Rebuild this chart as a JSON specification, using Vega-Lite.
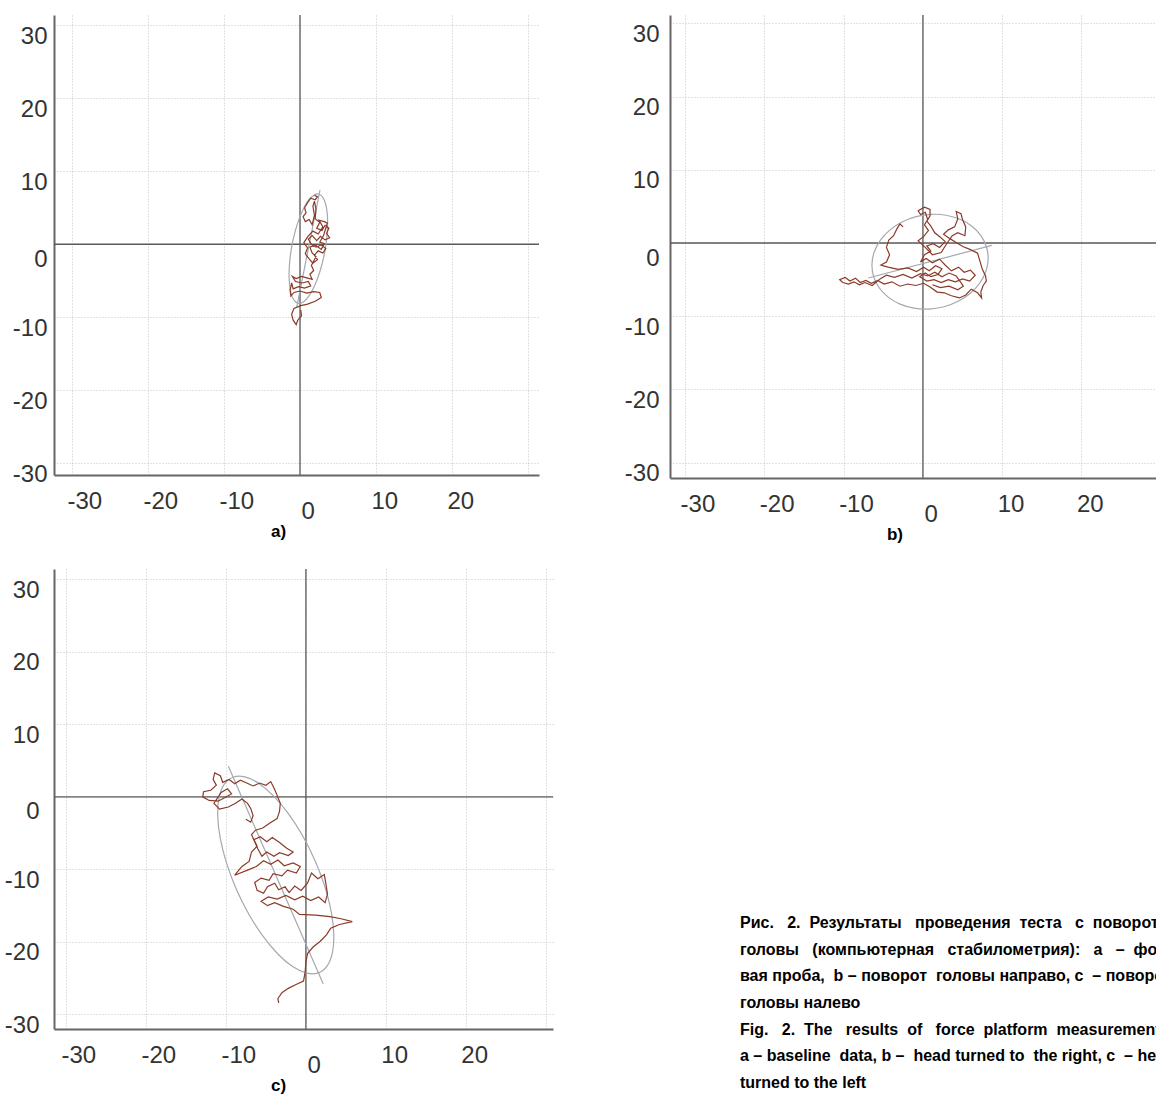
{
"$schema": "https://vega.github.io/schema/vega-lite/v6.json",
"background": "white",
"padding": {"left": 4, "top": 14, "right": 0, "bottom": 0},
"autosize": {"type": "pad"},
"config": {"view": {"stroke": null}, "font": "Liberation Sans"},
"datasets": {
"trajA": [{"i":1,"x":1.9,"y":6.7},{"i":2,"x":2.3,"y":6.5},{"i":3,"x":2.0,"y":6.1},{"i":4,"x":1.4,"y":6.3},{"i":5,"x":1.0,"y":5.7},{"i":6,"x":0.6,"y":5.0},{"i":7,"x":0.8,"y":4.3},{"i":8,"x":0.4,"y":3.8},{"i":9,"x":0.7,"y":3.1},{"i":10,"x":1.2,"y":3.4},{"i":11,"x":1.6,"y":2.7},{"i":12,"x":1.9,"y":4.0},{"i":13,"x":1.7,"y":5.2},{"i":14,"x":1.9,"y":5.9},{"i":15,"x":2.1,"y":4.8},{"i":16,"x":2.0,"y":3.5},{"i":17,"x":2.6,"y":3.0},{"i":18,"x":2.2,"y":2.2},{"i":19,"x":2.9,"y":1.9},{"i":20,"x":3.3,"y":2.6},{"i":21,"x":3.8,"y":2.2},{"i":22,"x":3.5,"y":1.5},{"i":23,"x":3.9,"y":0.9},{"i":24,"x":3.3,"y":0.6},{"i":25,"x":2.7,"y":1.1},{"i":26,"x":2.2,"y":0.5},{"i":27,"x":1.6,"y":1.2},{"i":28,"x":1.1,"y":0.7},{"i":29,"x":1.5,"y":0.0},{"i":30,"x":2.1,"y":-0.4},{"i":31,"x":2.8,"y":-0.1},{"i":32,"x":3.4,"y":-0.6},{"i":33,"x":3.0,"y":-1.2},{"i":34,"x":2.4,"y":-0.9},{"i":35,"x":1.9,"y":-1.5},{"i":36,"x":2.3,"y":-2.1},{"i":37,"x":1.7,"y":-2.6},{"i":38,"x":1.2,"y":-2.0},{"i":39,"x":0.7,"y":-1.3},{"i":40,"x":1.0,"y":-0.5},{"i":41,"x":0.5,"y":0.2},{"i":42,"x":1.0,"y":1.0},{"i":43,"x":1.7,"y":1.8},{"i":44,"x":2.4,"y":1.4},{"i":45,"x":3.0,"y":2.4},{"i":46,"x":2.5,"y":3.3},{"i":47,"x":3.2,"y":3.1},{"i":48,"x":3.6,"y":2.9},{"i":49,"x":3.1,"y":1.2},{"i":50,"x":2.6,"y":0.3},{"i":51,"x":3.2,"y":0.1},{"i":52,"x":2.8,"y":-0.7},{"i":53,"x":2.0,"y":-0.1},{"i":54,"x":1.3,"y":-0.4},{"i":55,"x":1.6,"y":-1.2},{"i":56,"x":2.1,"y":-1.7},{"i":57,"x":1.5,"y":-2.9},{"i":58,"x":1.8,"y":-3.6},{"i":59,"x":1.3,"y":-4.1},{"i":60,"x":1.6,"y":-4.8},{"i":61,"x":0.9,"y":-4.6},{"i":62,"x":0.2,"y":-4.4},{"i":63,"x":-0.5,"y":-4.7},{"i":64,"x":-1.0,"y":-4.4},{"i":65,"x":-0.6,"y":-5.1},{"i":66,"x":0.3,"y":-5.3},{"i":67,"x":1.1,"y":-5.1},{"i":68,"x":1.4,"y":-5.7},{"i":69,"x":0.6,"y":-6.0},{"i":70,"x":-0.2,"y":-5.8},{"i":71,"x":-0.9,"y":-6.1},{"i":72,"x":-1.1,"y":-5.3},{"i":73,"x":-1.3,"y":-6.3},{"i":74,"x":-1.2,"y":-7.1},{"i":75,"x":-0.8,"y":-6.6},{"i":76,"x":0.0,"y":-6.4},{"i":77,"x":0.9,"y":-6.7},{"i":78,"x":1.8,"y":-6.5},{"i":79,"x":2.6,"y":-6.6},{"i":80,"x":2.8,"y":-7.3},{"i":81,"x":2.0,"y":-7.8},{"i":82,"x":1.0,"y":-8.2},{"i":83,"x":0.1,"y":-8.4},{"i":84,"x":-0.8,"y":-8.8},{"i":85,"x":-1.1,"y":-9.6},{"i":86,"x":-0.9,"y":-10.4},{"i":87,"x":-0.5,"y":-11.0},{"i":88,"x":-0.3,"y":-10.4},{"i":89,"x":0.2,"y":-9.8},{"i":90,"x":0.1,"y":-9.0}],
"ellA": [{"i":0,"x":2.419,"y":6.884},{"i":1,"x":2.935,"y":6.53},{"i":2,"x":3.326,"y":5.69},{"i":3,"x":3.565,"y":4.422},{"i":4,"x":3.637,"y":2.811},{"i":5,"x":3.534,"y":0.968},{"i":6,"x":3.267,"y":-0.982},{"i":7,"x":2.852,"y":-2.906},{"i":8,"x":2.317,"y":-4.673},{"i":9,"x":1.699,"y":-6.162},{"i":10,"x":1.042,"y":-7.272},{"i":11,"x":0.387,"y":-7.928},{"i":12,"x":-0.219,"y":-8.084},{"i":13,"x":-0.735,"y":-7.73},{"i":14,"x":-1.126,"y":-6.89},{"i":15,"x":-1.365,"y":-5.622},{"i":16,"x":-1.437,"y":-4.011},{"i":17,"x":-1.334,"y":-2.168},{"i":18,"x":-1.067,"y":-0.218},{"i":19,"x":-0.652,"y":1.706},{"i":20,"x":-0.117,"y":3.473},{"i":21,"x":0.501,"y":4.962},{"i":22,"x":1.158,"y":6.072},{"i":23,"x":1.813,"y":6.728}],
"axA": [{"x":2.63,"y":7.4,"x2":-0.43,"y2":-8.6}],
"trajB": [{"i":1,"x":-2.5,"y":2.2},{"i":2,"x":-2.9,"y":2.6},{"i":3,"x":-3.3,"y":1.9},{"i":4,"x":-3.7,"y":1.0},{"i":5,"x":-4.3,"y":0.4},{"i":6,"x":-4.6,"y":-0.6},{"i":7,"x":-4.2,"y":-1.6},{"i":8,"x":-4.6,"y":-2.6},{"i":9,"x":-5.3,"y":-3.0},{"i":10,"x":-4.4,"y":-3.3},{"i":11,"x":-3.1,"y":-3.6},{"i":12,"x":-1.9,"y":-3.4},{"i":13,"x":-0.8,"y":-3.9},{"i":14,"x":0.1,"y":-3.3},{"i":15,"x":0.8,"y":-3.8},{"i":16,"x":1.6,"y":-3.1},{"i":17,"x":2.4,"y":-3.5},{"i":18,"x":1.9,"y":-4.3},{"i":19,"x":1.0,"y":-4.6},{"i":20,"x":0.3,"y":-4.1},{"i":21,"x":-0.4,"y":-4.6},{"i":22,"x":0.5,"y":-5.2},{"i":23,"x":1.4,"y":-5.0},{"i":24,"x":2.3,"y":-5.4},{"i":25,"x":3.2,"y":-5.0},{"i":26,"x":4.1,"y":-5.3},{"i":27,"x":5.0,"y":-4.9},{"i":28,"x":5.9,"y":-5.2},{"i":29,"x":6.6,"y":-4.4},{"i":30,"x":6.0,"y":-3.7},{"i":31,"x":5.2,"y":-4.0},{"i":32,"x":4.5,"y":-3.3},{"i":33,"x":3.6,"y":-3.8},{"i":34,"x":2.8,"y":-3.0},{"i":35,"x":2.1,"y":-2.2},{"i":36,"x":1.2,"y":-2.7},{"i":37,"x":0.4,"y":-2.1},{"i":38,"x":-0.3,"y":-2.6},{"i":39,"x":0.2,"y":-1.6},{"i":40,"x":1.0,"y":-1.1},{"i":41,"x":0.5,"y":-0.4},{"i":42,"x":1.3,"y":-0.1},{"i":43,"x":2.1,"y":-0.6},{"i":44,"x":2.8,"y":0.2},{"i":45,"x":2.2,"y":0.8},{"i":46,"x":1.5,"y":1.4},{"i":47,"x":1.0,"y":2.3},{"i":48,"x":0.5,"y":3.0},{"i":49,"x":0.9,"y":3.7},{"i":50,"x":0.9,"y":4.6},{"i":51,"x":0.2,"y":4.9},{"i":52,"x":-0.6,"y":4.4},{"i":53,"x":-0.3,"y":3.9},{"i":54,"x":0.3,"y":4.2},{"i":55,"x":0.6,"y":3.2},{"i":56,"x":0.2,"y":2.5},{"i":57,"x":0.7,"y":1.7},{"i":58,"x":0.1,"y":0.9},{"i":59,"x":-0.6,"y":0.3},{"i":60,"x":0.3,"y":-0.6},{"i":61,"x":1.2,"y":-1.6},{"i":62,"x":2.3,"y":-1.3},{"i":63,"x":3.0,"y":-0.1},{"i":64,"x":3.7,"y":1.0},{"i":65,"x":4.4,"y":1.4},{"i":66,"x":5.3,"y":1.0},{"i":67,"x":5.4,"y":2.2},{"i":68,"x":5.0,"y":3.2},{"i":69,"x":4.8,"y":4.0},{"i":70,"x":4.2,"y":4.3},{"i":71,"x":4.4,"y":3.3},{"i":72,"x":4.0,"y":2.2},{"i":73,"x":3.2,"y":1.8},{"i":74,"x":2.6,"y":1.2},{"i":75,"x":3.4,"y":0.6},{"i":76,"x":4.3,"y":0.0},{"i":77,"x":5.1,"y":-0.5},{"i":78,"x":6.0,"y":-0.9},{"i":79,"x":6.9,"y":-1.4},{"i":80,"x":7.2,"y":-2.5},{"i":81,"x":7.5,"y":-3.6},{"i":82,"x":7.9,"y":-4.5},{"i":83,"x":8.0,"y":-5.2},{"i":84,"x":7.6,"y":-5.8},{"i":85,"x":7.3,"y":-6.7},{"i":86,"x":7.4,"y":-7.5},{"i":87,"x":6.9,"y":-6.8},{"i":88,"x":6.1,"y":-6.3},{"i":89,"x":5.4,"y":-7.1},{"i":90,"x":4.6,"y":-7.5},{"i":91,"x":3.6,"y":-7.2},{"i":92,"x":2.7,"y":-6.8},{"i":93,"x":1.8,"y":-6.7},{"i":94,"x":0.9,"y":-6.0},{"i":95,"x":0.1,"y":-5.5},{"i":96,"x":-0.9,"y":-5.8},{"i":97,"x":-1.9,"y":-5.6},{"i":98,"x":-2.9,"y":-5.9},{"i":99,"x":-3.9,"y":-5.3},{"i":100,"x":-4.9,"y":-5.6},{"i":101,"x":-5.7,"y":-5.1},{"i":102,"x":-6.5,"y":-5.5},{"i":103,"x":-7.2,"y":-5.1},{"i":104,"x":-7.9,"y":-5.4},{"i":105,"x":-8.5,"y":-4.8},{"i":106,"x":-9.2,"y":-5.2},{"i":107,"x":-9.8,"y":-4.7},{"i":108,"x":-10.5,"y":-5.0},{"i":109,"x":-10.1,"y":-5.4},{"i":110,"x":-9.4,"y":-5.6},{"i":111,"x":-8.7,"y":-5.3},{"i":112,"x":-8.0,"y":-5.7},{"i":113,"x":-7.3,"y":-5.4},{"i":114,"x":-6.4,"y":-5.8},{"i":115,"x":-5.4,"y":-4.9},{"i":116,"x":-4.6,"y":-4.4},{"i":117,"x":-3.6,"y":-4.7},{"i":118,"x":-2.5,"y":-4.3},{"i":119,"x":-1.4,"y":-4.8},{"i":120,"x":-0.3,"y":-4.2},{"i":121,"x":0.6,"y":-4.5},{"i":122,"x":1.5,"y":-4.0},{"i":123,"x":2.4,"y":-4.6},{"i":124,"x":3.3,"y":-4.1},{"i":125,"x":4.2,"y":-4.5},{"i":126,"x":5.1,"y":-5.9},{"i":127,"x":4.4,"y":-6.4},{"i":128,"x":3.3,"y":-5.9},{"i":129,"x":2.2,"y":-6.1},{"i":130,"x":1.2,"y":-5.7}],
"ellB": [{"i":0,"x":8.014,"y":-0.511},{"i":1,"x":7.315,"y":1.012},{"i":2,"x":6.179,"y":2.292},{"i":3,"x":4.683,"y":3.242},{"i":4,"x":2.929,"y":3.798},{"i":5,"x":1.037,"y":3.92},{"i":6,"x":-0.864,"y":3.602},{"i":7,"x":-2.645,"y":2.864},{"i":8,"x":-4.185,"y":1.758},{"i":9,"x":-5.377,"y":0.358},{"i":10,"x":-6.143,"y":-1.24},{"i":11,"x":-6.429,"y":-2.928},{"i":12,"x":-6.214,"y":-4.589},{"i":13,"x":-5.515,"y":-6.112},{"i":14,"x":-4.379,"y":-7.392},{"i":15,"x":-2.883,"y":-8.342},{"i":16,"x":-1.129,"y":-8.898},{"i":17,"x":0.763,"y":-9.02},{"i":18,"x":2.664,"y":-8.702},{"i":19,"x":4.445,"y":-7.964},{"i":20,"x":5.985,"y":-6.858},{"i":21,"x":7.177,"y":-5.458},{"i":22,"x":7.943,"y":-3.86},{"i":23,"x":8.229,"y":-2.172}],
"axB": [{"x":-6.89,"y":-4.78,"x2":8.69,"y2":-0.32}],
"trajC": [{"i":1,"x":-3.4,"y":-28.4},{"i":2,"x":-3.5,"y":-27.8},{"i":3,"x":-3.0,"y":-27.0},{"i":4,"x":-2.2,"y":-26.4},{"i":5,"x":-1.3,"y":-25.9},{"i":6,"x":-0.3,"y":-25.4},{"i":7,"x":-0.1,"y":-24.2},{"i":8,"x":0.0,"y":-22.8},{"i":9,"x":0.2,"y":-21.6},{"i":10,"x":0.9,"y":-20.7},{"i":11,"x":1.8,"y":-19.9},{"i":12,"x":2.6,"y":-19.0},{"i":13,"x":3.1,"y":-18.1},{"i":14,"x":4.2,"y":-17.6},{"i":15,"x":5.8,"y":-17.2},{"i":16,"x":4.4,"y":-16.8},{"i":17,"x":3.0,"y":-16.5},{"i":18,"x":1.2,"y":-16.3},{"i":19,"x":-0.8,"y":-16.2},{"i":20,"x":-1.6,"y":-15.5},{"i":21,"x":-2.8,"y":-15.1},{"i":22,"x":-3.9,"y":-14.6},{"i":23,"x":-4.8,"y":-15.0},{"i":24,"x":-5.6,"y":-14.4},{"i":25,"x":-4.7,"y":-13.8},{"i":26,"x":-3.6,"y":-14.1},{"i":27,"x":-2.5,"y":-13.6},{"i":28,"x":-1.4,"y":-14.2},{"i":29,"x":-0.4,"y":-13.7},{"i":30,"x":0.6,"y":-14.3},{"i":31,"x":1.6,"y":-13.8},{"i":32,"x":2.4,"y":-14.6},{"i":33,"x":2.7,"y":-13.4},{"i":34,"x":2.5,"y":-12.0},{"i":35,"x":2.3,"y":-10.7},{"i":36,"x":1.5,"y":-11.3},{"i":37,"x":0.7,"y":-10.5},{"i":38,"x":0.2,"y":-11.9},{"i":39,"x":-0.6,"y":-12.9},{"i":40,"x":-1.4,"y":-12.3},{"i":41,"x":-2.1,"y":-13.2},{"i":42,"x":-2.6,"y":-12.4},{"i":43,"x":-3.4,"y":-12.8},{"i":44,"x":-3.9,"y":-11.9},{"i":45,"x":-4.8,"y":-12.4},{"i":46,"x":-5.3,"y":-13.3},{"i":47,"x":-6.1,"y":-12.9},{"i":48,"x":-6.4,"y":-11.8},{"i":49,"x":-5.6,"y":-11.2},{"i":50,"x":-4.6,"y":-11.5},{"i":51,"x":-4.1,"y":-10.6},{"i":52,"x":-3.0,"y":-10.9},{"i":53,"x":-2.3,"y":-10.1},{"i":54,"x":-1.2,"y":-10.5},{"i":55,"x":-0.7,"y":-9.6},{"i":56,"x":-1.6,"y":-9.1},{"i":57,"x":-2.7,"y":-9.5},{"i":58,"x":-3.5,"y":-8.7},{"i":59,"x":-4.4,"y":-9.3},{"i":60,"x":-5.3,"y":-8.8},{"i":61,"x":-6.2,"y":-9.6},{"i":62,"x":-7.3,"y":-10.1},{"i":63,"x":-8.9,"y":-10.8},{"i":64,"x":-8.0,"y":-9.6},{"i":65,"x":-7.1,"y":-8.9},{"i":66,"x":-6.8,"y":-7.6},{"i":67,"x":-6.1,"y":-6.8},{"i":68,"x":-6.5,"y":-5.9},{"i":69,"x":-5.7,"y":-5.5},{"i":70,"x":-4.9,"y":-6.2},{"i":71,"x":-4.2,"y":-5.6},{"i":72,"x":-3.3,"y":-6.3},{"i":73,"x":-2.4,"y":-7.1},{"i":74,"x":-1.6,"y":-7.6},{"i":75,"x":-2.2,"y":-8.1},{"i":76,"x":-3.3,"y":-7.7},{"i":77,"x":-4.0,"y":-8.2},{"i":78,"x":-4.9,"y":-7.6},{"i":79,"x":-5.5,"y":-8.2},{"i":80,"x":-6.0,"y":-7.2},{"i":81,"x":-6.8,"y":-5.2},{"i":82,"x":-6.3,"y":-4.6},{"i":83,"x":-5.4,"y":-4.3},{"i":84,"x":-4.5,"y":-3.6},{"i":85,"x":-3.6,"y":-3.0},{"i":86,"x":-3.3,"y":-2.0},{"i":87,"x":-3.2,"y":-0.9},{"i":88,"x":-3.6,"y":0.2},{"i":89,"x":-3.9,"y":1.0},{"i":90,"x":-4.4,"y":2.1},{"i":91,"x":-5.0,"y":1.6},{"i":92,"x":-5.8,"y":1.9},{"i":93,"x":-6.6,"y":1.5},{"i":94,"x":-7.4,"y":1.9},{"i":95,"x":-8.2,"y":2.3},{"i":96,"x":-8.9,"y":1.8},{"i":97,"x":-9.6,"y":2.4},{"i":98,"x":-10.4,"y":2.0},{"i":99,"x":-10.7,"y":2.9},{"i":100,"x":-11.4,"y":3.3},{"i":101,"x":-11.6,"y":2.4},{"i":102,"x":-11.2,"y":1.6},{"i":103,"x":-11.9,"y":0.9},{"i":104,"x":-12.8,"y":0.7},{"i":105,"x":-12.9,"y":0.0},{"i":106,"x":-12.1,"y":-0.5},{"i":107,"x":-11.0,"y":-0.6},{"i":108,"x":-10.1,"y":-0.1},{"i":109,"x":-9.3,"y":0.4},{"i":110,"x":-9.8,"y":1.1},{"i":111,"x":-10.6,"y":0.6},{"i":112,"x":-11.5,"y":-0.9},{"i":113,"x":-10.8,"y":-1.7},{"i":114,"x":-9.7,"y":-1.4},{"i":115,"x":-8.8,"y":-0.9},{"i":116,"x":-8.0,"y":-0.3},{"i":117,"x":-7.3,"y":-0.9},{"i":118,"x":-6.9,"y":-1.6},{"i":119,"x":-6.6,"y":-2.6},{"i":120,"x":-6.9,"y":-3.5},{"i":121,"x":-7.5,"y":-3.1}],
"ellC": [{"i":0,"x":1.566,"y":-24.265},{"i":1,"x":2.66,"y":-23.3},{"i":2,"x":3.316,"y":-21.483},{"i":3,"x":3.488,"y":-18.936},{"i":4,"x":3.167,"y":-15.834},{"i":5,"x":2.372,"y":-12.386},{"i":6,"x":1.159,"y":-8.83},{"i":7,"x":-0.39,"y":-5.406},{"i":8,"x":-2.169,"y":-2.348},{"i":9,"x":-4.058,"y":0.134},{"i":10,"x":-5.926,"y":1.873},{"i":11,"x":-7.648,"y":2.75},{"i":12,"x":-9.106,"y":2.705},{"i":13,"x":-10.2,"y":1.74},{"i":14,"x":-10.856,"y":-0.077},{"i":15,"x":-11.028,"y":-2.624},{"i":16,"x":-10.707,"y":-5.726},{"i":17,"x":-9.912,"y":-9.174},{"i":18,"x":-8.699,"y":-12.73},{"i":19,"x":-7.15,"y":-16.154},{"i":20,"x":-5.371,"y":-19.212},{"i":21,"x":-3.482,"y":-21.694},{"i":22,"x":-1.614,"y":-23.433},{"i":23,"x":0.108,"y":-24.31}],
"axC": [{"x":-9.7,"y":4.2,"x2":2.16,"y2":-25.75}],
"caption": [
{"line":1,"col":0.144,"text":"Рис.\u00a0\u00a0 2.\u00a0 Результаты\u00a0\u00a0 проведения\u00a0 теста\u00a0\u00a0 с\u00a0 поворотом"},
{"line":2,"col":0.144,"text":"головы\u00a0\u00a0 (компьютерная\u00a0\u00a0 стабилометрия):\u00a0\u00a0 а\u00a0\u00a0 –\u00a0 фоно-"},
{"line":3,"col":0.144,"text":"вая проба,\u00a0 b – поворот\u00a0 головы направо, с\u00a0 – поворот"},
{"line":4,"col":0.144,"text":"головы налево"},
{"line":5,"col":0.144,"text":"Fig.\u00a0\u00a0 2.\u00a0 The\u00a0\u00a0 results\u00a0 of\u00a0\u00a0 force\u00a0 platform\u00a0 measurements:"},
{"line":6,"col":0.144,"text":"a – baseline\u00a0 data, b –\u00a0 head turned to\u00a0 the right, c\u00a0 – head"},
{"line":7,"col":0.144,"text":"turned to the left"}
]
},
"columns": 2,
"align": "each",
"bounds": "flush",
"spacing": {"row": 91, "column": 117},
"concat": [
{
"width": 485, "height": 460,
"title": {"text": "a)", "orient": "bottom", "anchor": "middle", "frame": "group", "dx": -18, "offset": 1, "fontSize": 17, "fontWeight": "bold", "font": "Liberation Sans", "color": "#000000"},
"layer": [
{"data": {"name": "axA"}, "mark": {"type": "rule", "color": "#5a5a5a", "strokeWidth": 1.3}, "encoding": {"x": {"datum": 0, "type": "quantitative", "scale": {"domain": [-32.37, 31.45], "nice": false, "zero": false}, "title": null}}},
{"data": {"name": "axA"}, "mark": {"type": "rule", "color": "#5a5a5a", "strokeWidth": 1.3}, "encoding": {"y": {"datum": 0, "type": "quantitative", "scale": {"domain": [-31.6, 31.4], "nice": false, "zero": false}, "title": null}}},
{"data": {"name": "ellA"}, "mark": {"type": "line", "color": "#a3a9b0", "strokeWidth": 1.2, "interpolate": "cardinal-closed"}, "encoding": {"x": {"field": "x", "type": "quantitative", "scale": {"domain": [-32.37, 31.45], "nice": false, "zero": false}, "title": null}, "y": {"field": "y", "type": "quantitative", "scale": {"domain": [-31.6, 31.4], "nice": false, "zero": false}, "title": null}, "order": {"field": "i"}}},
{"data": {"name": "axA"}, "mark": {"type": "rule", "color": "#a3a9b0", "strokeWidth": 1.2}, "encoding": {"x": {"field": "x", "type": "quantitative", "scale": {"domain": [-32.37, 31.45], "nice": false, "zero": false}, "title": null}, "y": {"field": "y", "type": "quantitative", "scale": {"domain": [-31.6, 31.4], "nice": false, "zero": false}, "title": null}, "x2": {"field": "x2"}, "y2": {"field": "y2"}}},
{"data": {"name": "trajA"}, "mark": {"type": "line", "color": "#8a3a28", "strokeWidth": 1.2},
 "encoding": {
  "x": {"field": "x", "type": "quantitative", "title": null, "scale": {"domain": [-32.37, 31.45], "nice": false, "zero": false},
   "axis": {"values": [-30,-20,-10,0,10,20,30], "grid": true, "gridColor": "#c4c4c4", "gridDash": [1,2], "gridWidth": 1, "ticks": false, "domain": true, "domainColor": "#666666", "domainWidth": 2, "labelFont": "Liberation Sans", "labelFontSize": 24, "labelColor": "#333333", "labelAlign": "left", "labelBaseline": "top", "labelExpr": "datum.value == 30 ? '' : toString(datum.value)", "labelOffset": {"condition": {"test": "datum.value == 0", "value": 1}, "value": -5}, "labelPadding": {"condition": {"test": "datum.value == 0", "value": 24}, "value": 14}, "labelFlush": false, "labelOverlap": false, "labelBound": false}},
  "y": {"field": "y", "type": "quantitative", "title": null, "scale": {"domain": [-31.6, 31.4], "nice": false, "zero": false},
   "axis": {"values": [-30,-20,-10,0,10,20,30], "grid": true, "gridColor": "#c4c4c4", "gridDash": [1,2], "gridWidth": 1, "ticks": false, "domain": true, "domainColor": "#666666", "domainWidth": 2, "labelFont": "Liberation Sans", "labelFontSize": 24, "labelColor": "#333333", "labelAlign": "right", "labelBaseline": "top", "labelExpr": "toString(datum.value)", "labelOffset": {"condition": {"test": "datum.value == 0", "value": 3}, "value": -1}, "labelPadding": 7, "labelFlush": false, "labelOverlap": false, "labelBound": false}},
  "order": {"field": "i"}}}
]
},
{
"width": 486, "height": 463,
"title": {"text": "b)", "orient": "bottom", "anchor": "middle", "frame": "group", "dx": -18, "offset": 1, "fontSize": 17, "fontWeight": "bold", "font": "Liberation Sans", "color": "#000000"},
"layer": [
{"data": {"name": "axB"}, "mark": {"type": "rule", "color": "#5a5a5a", "strokeWidth": 1.3}, "encoding": {"x": {"datum": 0, "type": "quantitative", "scale": {"domain": [-31.9, 29.4], "nice": false, "zero": false}, "title": null}}},
{"data": {"name": "axB"}, "mark": {"type": "rule", "color": "#5a5a5a", "strokeWidth": 1.3}, "encoding": {"y": {"datum": 0, "type": "quantitative", "scale": {"domain": [-32.1, 31.15], "nice": false, "zero": false}, "title": null}}},
{"data": {"name": "ellB"}, "mark": {"type": "line", "color": "#a3a9b0", "strokeWidth": 1.2, "interpolate": "cardinal-closed"}, "encoding": {"x": {"field": "x", "type": "quantitative", "scale": {"domain": [-31.9, 29.4], "nice": false, "zero": false}, "title": null}, "y": {"field": "y", "type": "quantitative", "scale": {"domain": [-32.1, 31.15], "nice": false, "zero": false}, "title": null}, "order": {"field": "i"}}},
{"data": {"name": "axB"}, "mark": {"type": "rule", "color": "#a3a9b0", "strokeWidth": 1.2}, "encoding": {"x": {"field": "x", "type": "quantitative", "scale": {"domain": [-31.9, 29.4], "nice": false, "zero": false}, "title": null}, "y": {"field": "y", "type": "quantitative", "scale": {"domain": [-32.1, 31.15], "nice": false, "zero": false}, "title": null}, "x2": {"field": "x2"}, "y2": {"field": "y2"}}},
{"data": {"name": "trajB"}, "mark": {"type": "line", "color": "#8a3a28", "strokeWidth": 1.2},
 "encoding": {
  "x": {"field": "x", "type": "quantitative", "title": null, "scale": {"domain": [-31.9, 29.4], "nice": false, "zero": false},
   "axis": {"values": [-30,-20,-10,0,10,20], "grid": true, "gridColor": "#c4c4c4", "gridDash": [1,2], "gridWidth": 1, "ticks": false, "domain": true, "domainColor": "#666666", "domainWidth": 2, "labelFont": "Liberation Sans", "labelFontSize": 24, "labelColor": "#333333", "labelAlign": "left", "labelBaseline": "top", "labelExpr": "toString(datum.value)", "labelOffset": {"condition": {"test": "datum.value == 0", "value": 1}, "value": -5}, "labelPadding": {"condition": {"test": "datum.value == 0", "value": 24}, "value": 14}, "labelFlush": false, "labelOverlap": false, "labelBound": false}},
  "y": {"field": "y", "type": "quantitative", "title": null, "scale": {"domain": [-32.1, 31.15], "nice": false, "zero": false},
   "axis": {"values": [-30,-20,-10,0,10,20,30], "grid": true, "gridColor": "#c4c4c4", "gridDash": [1,2], "gridWidth": 1, "ticks": false, "domain": true, "domainColor": "#666666", "domainWidth": 2, "labelFont": "Liberation Sans", "labelFontSize": 24, "labelColor": "#333333", "labelAlign": "right", "labelBaseline": "top", "labelExpr": "toString(datum.value)", "labelOffset": {"condition": {"test": "datum.value == 0", "value": 3}, "value": -1}, "labelPadding": 11, "labelFlush": false, "labelOverlap": false, "labelBound": false}},
  "order": {"field": "i"}}}
]
},
{
"width": 499, "height": 460,
"title": {"text": "c)", "orient": "bottom", "anchor": "middle", "frame": "group", "dx": -25, "offset": 1, "fontSize": 17, "fontWeight": "bold", "font": "Liberation Sans", "color": "#000000"},
"layer": [
{"data": {"name": "axC"}, "mark": {"type": "rule", "color": "#5a5a5a", "strokeWidth": 1.3}, "encoding": {"x": {"datum": 0, "type": "quantitative", "scale": {"domain": [-31.5, 30.9], "nice": false, "zero": false}, "title": null}}},
{"data": {"name": "axC"}, "mark": {"type": "rule", "color": "#5a5a5a", "strokeWidth": 1.3}, "encoding": {"y": {"datum": 0, "type": "quantitative", "scale": {"domain": [-32.0, 31.4], "nice": false, "zero": false}, "title": null}}},
{"data": {"name": "ellC"}, "mark": {"type": "line", "color": "#a3a9b0", "strokeWidth": 1.2, "interpolate": "cardinal-closed"}, "encoding": {"x": {"field": "x", "type": "quantitative", "scale": {"domain": [-31.5, 30.9], "nice": false, "zero": false}, "title": null}, "y": {"field": "y", "type": "quantitative", "scale": {"domain": [-32.0, 31.4], "nice": false, "zero": false}, "title": null}, "order": {"field": "i"}}},
{"data": {"name": "axC"}, "mark": {"type": "rule", "color": "#a3a9b0", "strokeWidth": 1.2}, "encoding": {"x": {"field": "x", "type": "quantitative", "scale": {"domain": [-31.5, 30.9], "nice": false, "zero": false}, "title": null}, "y": {"field": "y", "type": "quantitative", "scale": {"domain": [-32.0, 31.4], "nice": false, "zero": false}, "title": null}, "x2": {"field": "x2"}, "y2": {"field": "y2"}}},
{"data": {"name": "trajC"}, "mark": {"type": "line", "color": "#8a3a28", "strokeWidth": 1.2},
 "encoding": {
  "x": {"field": "x", "type": "quantitative", "title": null, "scale": {"domain": [-31.5, 30.9], "nice": false, "zero": false},
   "axis": {"values": [-30,-20,-10,0,10,20,30], "grid": true, "gridColor": "#c4c4c4", "gridDash": [1,2], "gridWidth": 1, "ticks": false, "domain": true, "domainColor": "#666666", "domainWidth": 2, "labelFont": "Liberation Sans", "labelFontSize": 24, "labelColor": "#333333", "labelAlign": "left", "labelBaseline": "top", "labelExpr": "datum.value == 30 ? '' : toString(datum.value)", "labelOffset": {"condition": {"test": "datum.value == 0", "value": 1}, "value": -5}, "labelPadding": {"condition": {"test": "datum.value == 0", "value": 24}, "value": 14}, "labelFlush": false, "labelOverlap": false, "labelBound": false}},
  "y": {"field": "y", "type": "quantitative", "title": null, "scale": {"domain": [-32.0, 31.4], "nice": false, "zero": false},
   "axis": {"values": [-30,-20,-10,0,10,20,30], "grid": true, "gridColor": "#c4c4c4", "gridDash": [1,2], "gridWidth": 1, "ticks": false, "domain": true, "domainColor": "#666666", "domainWidth": 2, "labelFont": "Liberation Sans", "labelFontSize": 24, "labelColor": "#333333", "labelAlign": "right", "labelBaseline": "top", "labelExpr": "toString(datum.value)", "labelOffset": {"condition": {"test": "datum.value == 0", "value": 3}, "value": -1}, "labelPadding": 15, "labelFlush": false, "labelOverlap": false, "labelBound": false}},
  "order": {"field": "i"}}}
]
},
{
"width": 486, "height": 520,
"data": {"name": "caption"},
"mark": {"type": "text", "align": "left", "baseline": "middle", "font": "Liberation Sans", "fontWeight": "bold", "fontSize": 16, "color": "#000000"},
"encoding": {
 "x": {"field": "col", "type": "quantitative", "scale": {"domain": [0, 1], "nice": false, "zero": false}, "axis": null},
 "y": {"field": "line", "type": "quantitative", "scale": {"domain": [-12.273, 7.224], "nice": false, "zero": false, "reverse": true}, "axis": null},
 "text": {"field": "text"}
}
}
]
}
